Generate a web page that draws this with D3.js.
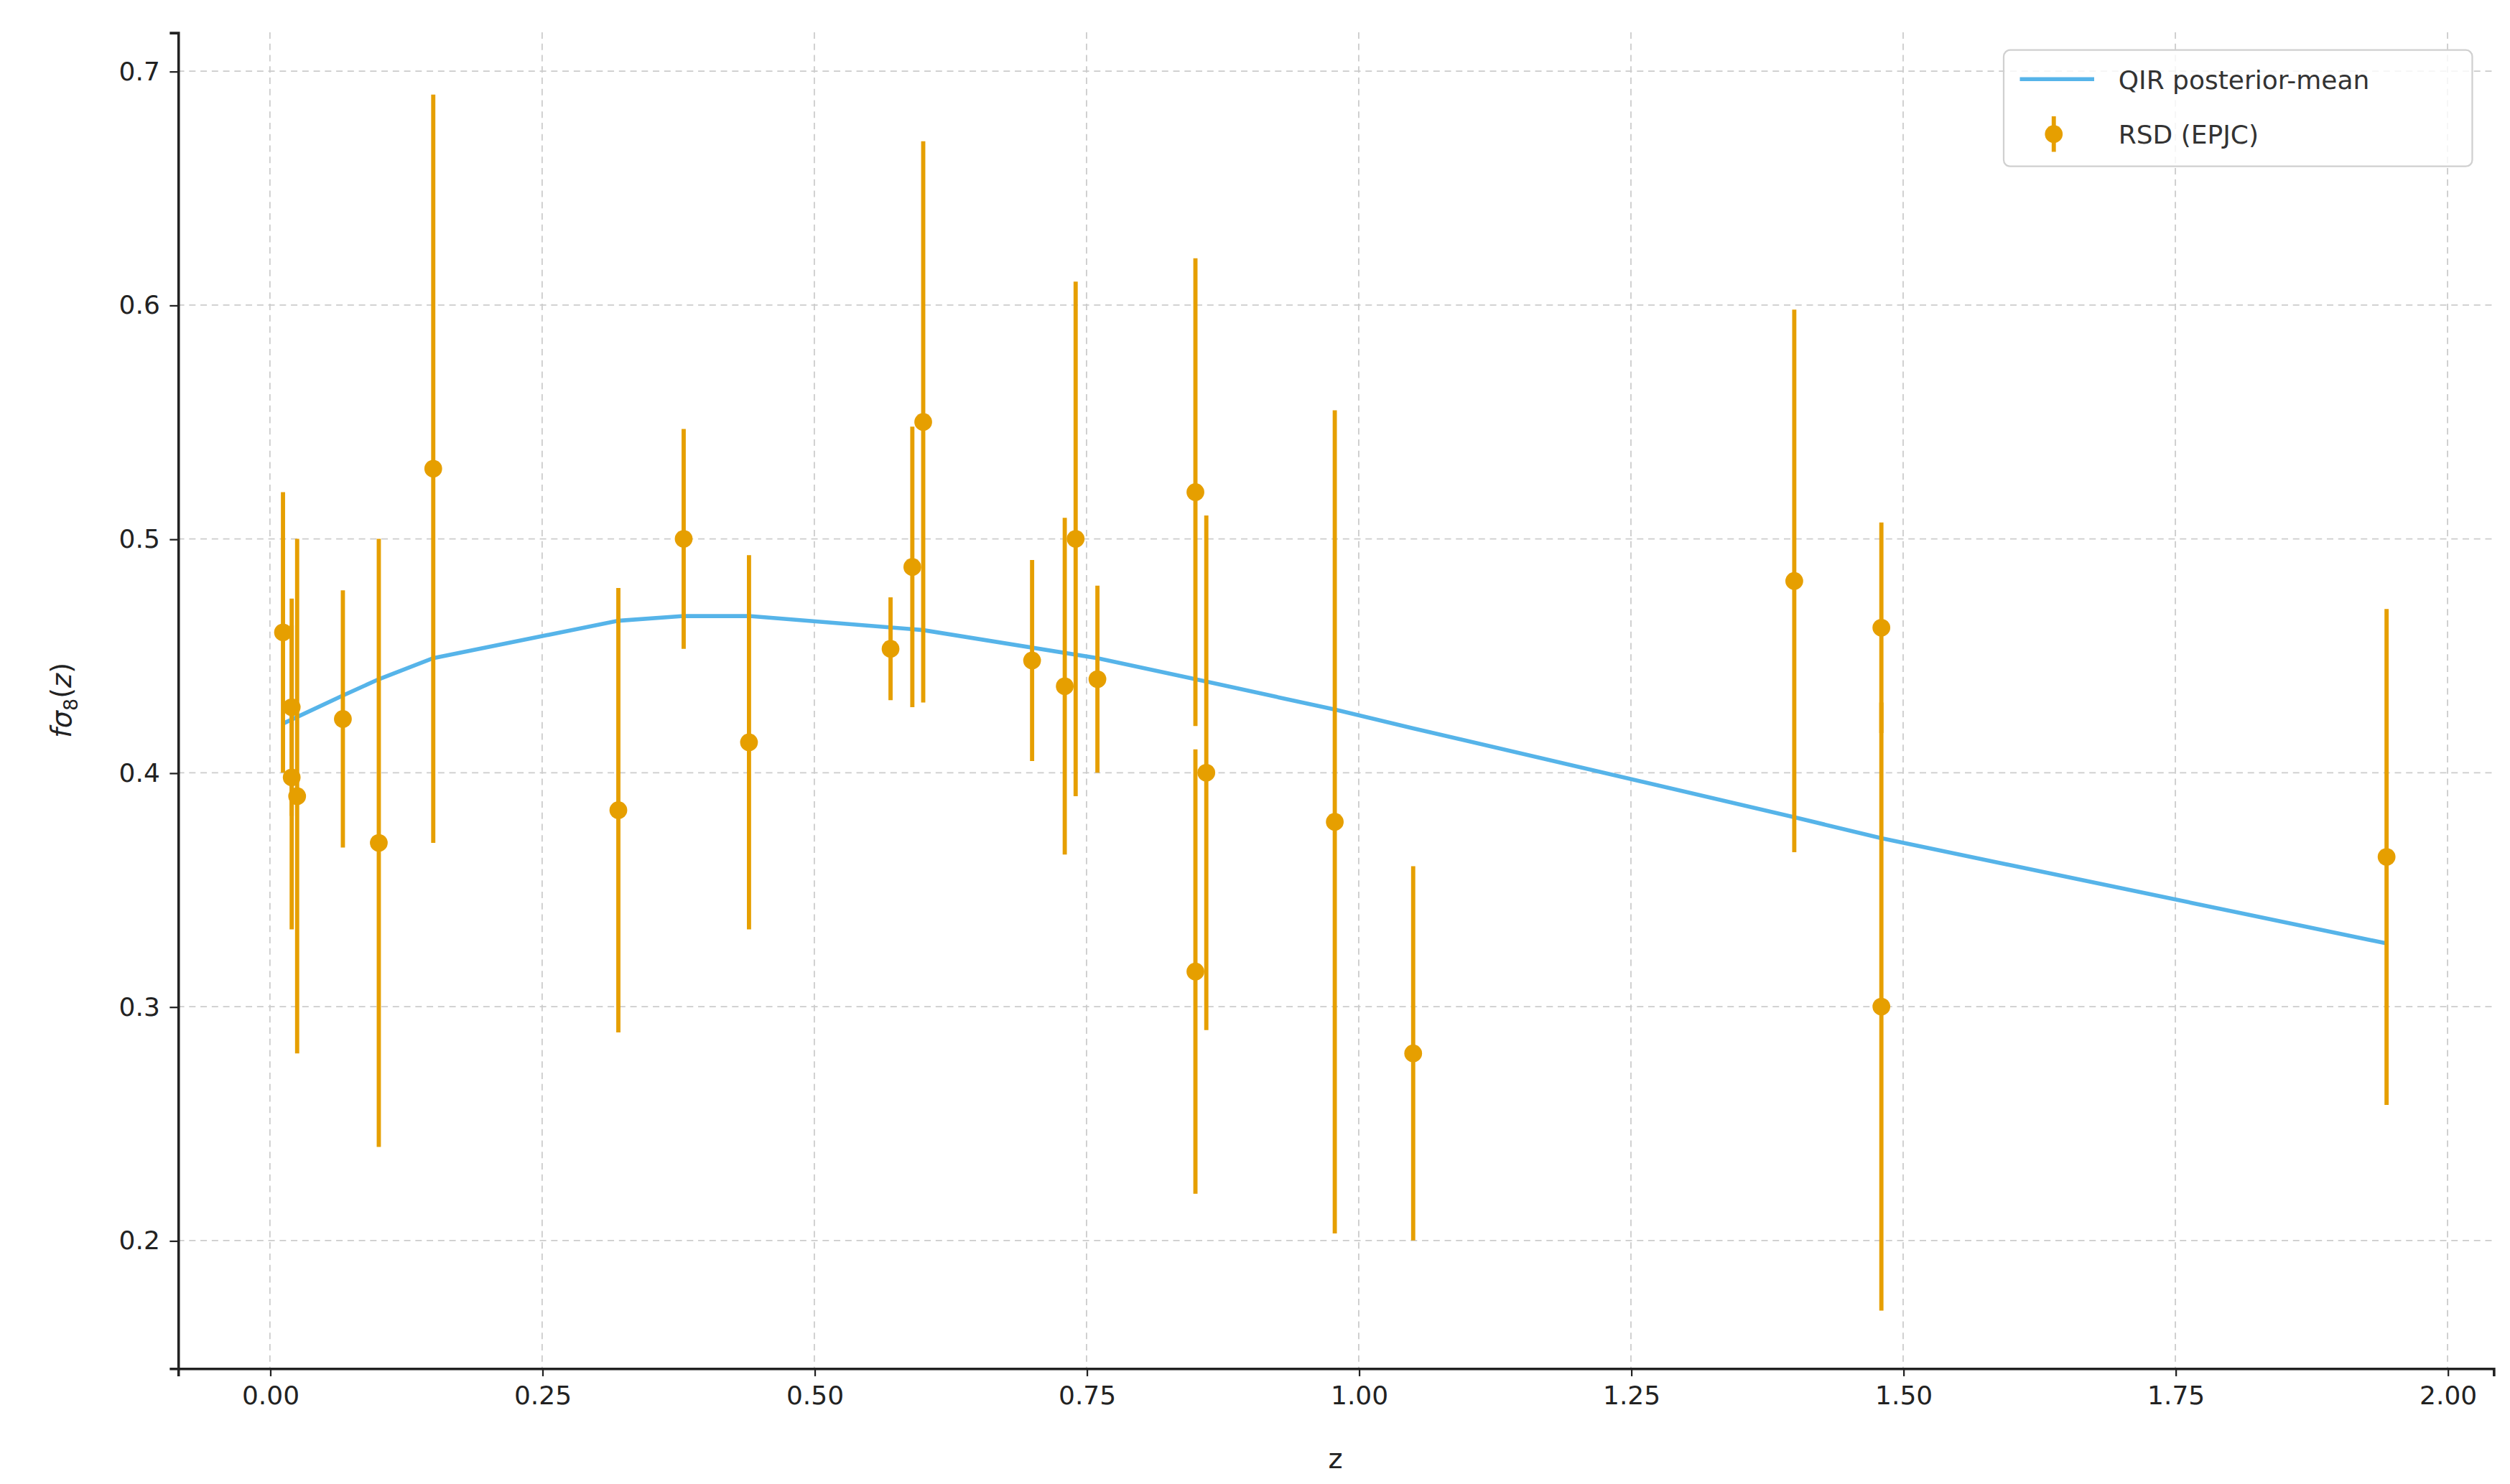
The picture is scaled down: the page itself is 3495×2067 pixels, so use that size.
<!DOCTYPE html>
<html>
<head>
<meta charset="utf-8">
<script src="https://cdn.jsdelivr.net/npm/d3@7"></script>
<style>
  html, body { margin: 0; padding: 0; background: #fff; }
  text { font-family: "DejaVu Sans", sans-serif; fill: #222; }
</style>
</head>
<body>
<svg id="chart" width="3495" height="2067" viewBox="0 0 1553.3 918.7"></svg>
<script>
// RSD measurements: redshift, f sigma8, symmetric error
var rsd_z   = [0.012, 0.02, 0.02, 0.025, 0.067, 0.10, 0.15, 0.32, 0.38, 0.44, 0.57, 0.59, 0.60,
               0.70, 0.73, 0.74, 0.76, 0.85, 0.85, 0.86, 0.978, 1.05, 1.40, 1.48, 1.48, 1.944];
var rsd_val = [0.46, 0.428, 0.398, 0.39, 0.423, 0.37, 0.53, 0.384, 0.50, 0.413, 0.453, 0.488, 0.55,
               0.448, 0.437, 0.50, 0.44, 0.52, 0.315, 0.40, 0.379, 0.28, 0.482, 0.462, 0.30, 0.364];
var rsd_err = [0.06, 0.0465, 0.065, 0.11, 0.055, 0.13, 0.16, 0.095, 0.047, 0.08, 0.022, 0.06, 0.12,
               0.043, 0.072, 0.11, 0.04, 0.10, 0.095, 0.11, 0.176, 0.08, 0.116, 0.045, 0.13, 0.106];

// model curve
var curve_z   = [0.012, 0.067, 0.10, 0.15, 0.32, 0.38, 0.44, 0.60, 0.76, 0.85, 0.978, 1.05, 1.40, 1.48, 1.944];
var curve_val = [0.421, 0.433, 0.44, 0.449, 0.465, 0.467, 0.467, 0.461, 0.449, 0.44, 0.427, 0.419, 0.381, 0.372, 0.327];

var x_ticks = [0, 0.25, 0.5, 0.75, 1.0, 1.25, 1.5, 1.75, 2.0];
var y_ticks = [0.2, 0.3, 0.4, 0.5, 0.6, 0.7];

var orange = "#E69F00", blue = "#56B4E9";

var svg = d3.select("#chart"),
    m_left = 110, m_right = 1543, m_top = 20, m_bottom = 847,
    xScale = d3.scaleLinear().domain([-0.0846, 2.042]).range([m_left, m_right]),
    yScale = d3.scaleLinear().domain([0.1454, 0.7166]).range([m_bottom, m_top])
;

// grid
svg.append("g").selectAll("line").data(x_ticks).enter().append("line")
    .attr("x1", d => xScale(d)).attr("x2", d => xScale(d))
    .attr("y1", m_top).attr("y2", m_bottom)
    .style("stroke", "#cccccc").style("stroke-width", 0.8).style("stroke-dasharray", "4,3");
svg.append("g").selectAll("line").data(y_ticks).enter().append("line")
    .attr("x1", m_left).attr("x2", m_right)
    .attr("y1", d => yScale(d)).attr("y2", d => yScale(d))
    .style("stroke", "#cccccc").style("stroke-width", 0.8).style("stroke-dasharray", "4,3");

// axes
var xAxis = svg.append("g")
    .attr("transform", "translate(0," + m_bottom + ")")
    .call(d3.axisBottom(xScale).tickValues(x_ticks).tickFormat(d3.format(".2f")).tickSizeOuter(0).tickSize(5).tickPadding(6));
var yAxis = svg.append("g")
    .attr("transform", "translate(" + m_left + ",0)")
    .call(d3.axisLeft(yScale).tickValues(y_ticks).tickFormat(d3.format(".1f")).tickSizeOuter(0).tickSize(5).tickPadding(6));
[xAxis, yAxis].forEach(a => {
    a.selectAll("text").style("font-size", "16px").style("font-family", "DejaVu Sans").style("fill", "#222");
    a.selectAll("line").style("stroke", "#222").style("stroke-width", 1);
    a.select(".domain").style("stroke", "#222").style("stroke-width", 1.6);
});

svg.append("text").attr("x", (m_left + m_right) / 2).attr("y", 909)
    .attr("text-anchor", "middle").style("font-size", "17px").text("z");

var ylab = svg.append("text")
    .attr("transform", "translate(44," + ((m_top + m_bottom) / 2) + ") rotate(-90)")
    .attr("text-anchor", "middle").style("font-size", "17px");
ylab.append("tspan").style("font-style", "italic").text("fσ");
ylab.append("tspan").attr("dy", 4).style("font-size", "12px").text("8");
ylab.append("tspan").attr("dy", -4).text("(");
ylab.append("tspan").style("font-style", "italic").text("z");
ylab.append("tspan").text(")");

// model line
var line = d3.line().x(d => xScale(d[0])).y(d => yScale(d[1]));
svg.append("path")
    .datum(curve_z.map((z, i) => [z, curve_val[i]]))
    .attr("d", line).style("fill", "none").style("stroke", blue).style("stroke-width", 2.5);

// error bars + points
var pts = rsd_z.map((z, i) => [z, rsd_val[i], rsd_err[i]]);
svg.append("g").selectAll("line").data(pts).enter().append("line")
    .attr("x1", d => xScale(d[0])).attr("x2", d => xScale(d[0]))
    .attr("y1", d => yScale(d[1] - d[2])).attr("y2", d => yScale(d[1] + d[2]))
    .style("stroke", orange).style("stroke-width", 2.6);
svg.append("g").selectAll("circle").data(pts).enter().append("circle")
    .attr("cx", d => xScale(d[0])).attr("cy", d => yScale(d[1])).attr("r", 5.5)
    .style("fill", orange);

// legend
var lg = svg.append("g");
lg.append("rect").attr("x", 1240).attr("y", 31).attr("width", 290).attr("height", 72).attr("rx", 4)
    .style("fill", "rgba(255,255,255,0.8)").style("stroke", "#d0d0d0").style("stroke-width", 1);
lg.append("line").attr("x1", 1250).attr("x2", 1296).attr("y1", 49).attr("y2", 49)
    .style("stroke", blue).style("stroke-width", 2.5);
lg.append("text").attr("x", 1311).attr("y", 55).style("font-size", "16px").style("fill", "#333").text("QIR posterior-mean");
lg.append("line").attr("x1", 1271).attr("x2", 1271).attr("y1", 72).attr("y2", 94)
    .style("stroke", orange).style("stroke-width", 2.6);
lg.append("circle").attr("cx", 1271).attr("cy", 83).attr("r", 5.5).style("fill", orange);
lg.append("text").attr("x", 1311).attr("y", 89).style("font-size", "16px").style("fill", "#333").text("RSD (EPJC)");
</script>
</body>
</html>
